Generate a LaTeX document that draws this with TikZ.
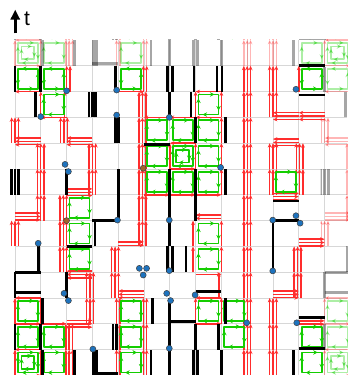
\documentclass[tikz,border=0pt]{standalone}
\usepackage{fontspec}
\setsansfont{Liberation Sans}
\usetikzlibrary{arrows.meta,decorations.markings}

\definecolor{wline}{RGB}{255,45,45}
\definecolor{plaqc}{RGB}{20,205,0}
\definecolor{defect}{RGB}{30,115,190}
\definecolor{defectb}{RGB}{165,100,45}
\definecolor{gridc}{RGB}{215,215,215}

% offsets of 1, 2 or 3 parallel worldlines
\newcommand{\wofs}[1]{\ifcase#1\or\def\olist{0}\or\def\olist{-0.065,0.065}\else\def\olist{-0.13,0,0.13}\fi}
% vertical piece: x, row, count -- horizontal piece: from x, to x, y, count
\newcommand{\wv}[3]{\wofs{#3}\foreach \of in \olist {\draw[wl] (#1+\of,#2) -- (#1+\of,#2+1);}}
\newcommand{\wh}[4]{\wofs{#4}\foreach \of in \olist {\draw[wl] (#1,#3+\of) -- (#2,#3+\of);}}
% plaquette: cell, row, inset, turn (1 cw, -1 ccw)
\newcommand{\plaq}[4]{%
  \ifnum#4=1
    \draw[plaquette] (#1+#3,#2+1-#3) -- (#1+1-#3,#2+1-#3) -- (#1+1-#3,#2+#3) -- (#1+#3,#2+#3) -- cycle;
  \else
    \draw[plaquette] (#1+1-#3,#2+1-#3) -- (#1+#3,#2+1-#3) -- (#1+#3,#2+#3) -- (#1+1-#3,#2+#3) -- cycle;
  \fi}

\newcommand{\worldpic}{%
  % worldlines
  \foreach \m in {0,...,11} {\wv{9}{\m}{3}}
  \foreach \x/\m/\n in {0/0/1, 0/2/1, 0/5/3, 0/9/3,
      1/0/1, 1/2/1, 1/6/3, 1/7/3, 1/8/3, 1/10/1,
      2.1/0/3, 2.1/1/3, 1.87/4/3, 1.87/5/3, 1.87/6/3, 1.9/9/3, 1.92/10/1, 2.07/11/2,
      2.91/2/3, 2.91/3/3, 3/7/3, 3/8/3,
      4/0/2, 4/1/2, 4/2/2, 3.88/3/3, 3.88/4/3,
      5.04/0/2, 5.04/1/2, 5.04/2/2, 4.94/5/3, 4.94/6/3, 4.94/7/3, 4.94/8/3, 4.94/9/3, 4.94/10/3, 5.04/11/2,
      6/8/1, 7/8/1, 7/10/1, 6.9/4/1, 6.9/5/1, 7/2/1,
      8/7/1, 8/8/1, 8/9/1, 8/10/1, 8/4/1, 8/5/1, 7.9/3/1, 8/2/1,
      10/0/3, 10/1/3, 10/2/3, 10/10/3, 10/11/3, 10/7/3, 10/8/3,
      10.95/3/3, 10.95/4/3, 11.03/7/3, 11.03/8/3, 11/11/1} {\wv{\x}{\m}{\n}}
  \foreach \a/\b/\y/\n in {1/0/11/1, 2/1/10/1, 4/5/11/1, 6/5/10/1, 7/6/10/1, 8/7/10/1, 8/7/11/1,
      12/11/10.05/3, 11/10/10.05/3, 1/0/9.07/3, 3/2/9.07/3, 7/6/9/1, 6/7/8/1,
      5/6/7/1, 6/7/7/1, 7/8/7/1, 11/10/9.03/3, 10/11/6.93/3, 2/3/7.1/3, 0/1/6.16/3,
      8/7/6.15/2, 4/5/5.11/2, 11/12/5.15/3, 3/2/3.91/3, 7/8/3.92/1, 5/4/3.14/3, 10/11/3.14/3,
      8/7/3/1, 7/8/2/1, 2/3/2/3, 1/2/2/1, 0/1/2/1, 1/0/3/1, 0/1/0/1, 1/0/1/1, 11/12/2.05/2} {\wh{\a}{\b}{\y}{\n}}
  % plaquettes
  \foreach \c/\m/\d in {0/11/-1, 1/11/-1, 4/11/-1, 11/11/-1, 1/10/1, 7/10/1,
      5/9/1, 6/9/1, 7/9/1, 5/8/1, 7/8/1, 5/7/1, 6/7/1, 7/7/1, 10/7/1,
      2/6/1, 2/5/1, 7/5/1, 2/4/1, 7/4/1, 0/2/1, 4/2/1, 7/2/1, 8/2/1,
      0/1/1, 1/1/1, 4/1/1, 8/1/1, 11/1/1, 1/0/1, 4/0/1, 11/0/1} {\plaq{\c}{\m}{0.11}{\d}}
  \foreach \c/\m in {6/8, 0/0} {\plaq{\c}{\m}{0.11}{1}\plaq{\c}{\m}{0.25}{1}}
  % bonds
  \foreach \x/\m in {0/11, -0.15/7, 0/7, 0.15/7, 0/3, 0/1,
      1/11, 0.8/10, 0.9/4, 1.06/2, 1/1, 1.06/0,
      2/7, 2/3, 2.3/0,
      2.87/10, 3/10, 3.13/10, 3.1/5, 3.03/0, 3.16/0,
      3.88/11, 3.88/9, 4/9, 4/7, 4/6, 3.8/1, 3.93/1,
      5.33/2, 5.27/0,
      5.9/11, 6.1/11, 6/10, 6/7, 6/6, 6/5, 5.9/4, 6.1/4, 6/2, 6/1, 6/0,
      6.94/11, 6.82/10, 7/9, 7/7, 7/6, 6.63/4, 7/1, 6.92/0, 7.08/0,
      7.83/11, 8.02/11, 8.15/9, 8.15/7, 8.15/2, 7.9/1, 8/0,
      10/5, 10/4, 10.8/0} {\draw[bar] (\x,\m) -- (\x,\m+1);}
  \foreach \c/\y in {11/12, 11/10.87, 5/8.95, 10/6.76, 3/6, 10/6, 2/5, 0/4, 0/3.2,
      7/3.24, 6/2.08, 11/2.23, 11/1.05, 3/0.08} {\draw[bar] (\c,\y) -- (\c+1,\y);}
}

\begin{document}
\begin{tikzpicture}[x=25.8pt, y=25.8pt, line join=round,
    wl/.style={draw=wline, line width=1.4pt, -{Stealth[length=4.4pt,width=3.8pt]}},
    plaquette/.style={draw=plaqc, line width=1.8pt, postaction={decorate},
      decoration={markings, mark=between positions 0.2 and 0.95 step 0.25 with {\arrow{Stealth[length=4.6pt,width=4.6pt]}}}},
    bar/.style={line width=2.8pt},
    gridl/.style={draw=gridc, line width=0.9pt},
    defectdot/.style={fill=defect, draw=black!75, line width=0.5pt},
    fade/.style={opacity=0.35}]
  \useasboundingbox (-0.581,0.016) rectangle (12.868,14.55);
  % lattice
  \foreach \k in {0,...,12} {\draw[gridl] (\k,0) -- (\k,13);}
  \foreach \m in {0,...,12} {\draw[gridl] (0,\m) -- (12.868,\m);}
  % periodic images, faded
  \begin{scope}
    \clip (-0.6,11.85) rectangle (11.95,13);
    \begin{scope}[shift={(0,12)}, fade] \worldpic \end{scope}
  \end{scope}
  \begin{scope}
    \clip (11.85,-0.1) rectangle (13,11.95);
    \begin{scope}[shift={(12,0)}, fade] \worldpic \end{scope}
  \end{scope}
  \begin{scope}
    \clip (11.95,11.95) rectangle (13,13);
    \begin{scope}[shift={(12,12)}, fade] \worldpic \end{scope}
  \end{scope}
  % the lattice itself
  \worldpic
  % defects
  \foreach \x/\y in {2.0/11.03, 3.94/11.06, 10.89/11.09, 1.0/10.03, 3.94/10.09, 5.98/10.0,
      7.97/8.06, 1.94/8.18, 2.07/7.9, 3.97/6.02, 5.98/6.02, 9.99/6.02, 10.89/6.19, 11.05/5.9,
      0.9/5.12, 4.82/4.15, 5.1/4.15, 4.97/3.89, 5.98/4.06, 9.99/4.05, 1.9/3.18, 2.07/2.9,
      5.88/3.18, 6.03/2.9, 6.98/3.12, 8.98/2.04, 10.92/2.04, 3.02/1.02, 5.98/1.05} {
    \filldraw[defectdot] (\x,\y) circle (3pt);
  }
  \foreach \x/\y in {4.97/8.03, 2.0/6.0} {
    \filldraw[defectdot, fill=defectb] (\x,\y) circle (3pt);
  }
  % time axis
  \path (0.01,13.26) coordinate (T0) (0.01,14.18) coordinate (T1);
  \draw[-{Triangle[length=10pt,width=9pt]}, line width=2.9pt] (T0) -- (T1);
  \node[font=\sffamily\fontsize{21}{21}\selectfont, inner sep=0pt] (tlab) at (0.47,13.84) {t};
\end{tikzpicture}
\end{document}
